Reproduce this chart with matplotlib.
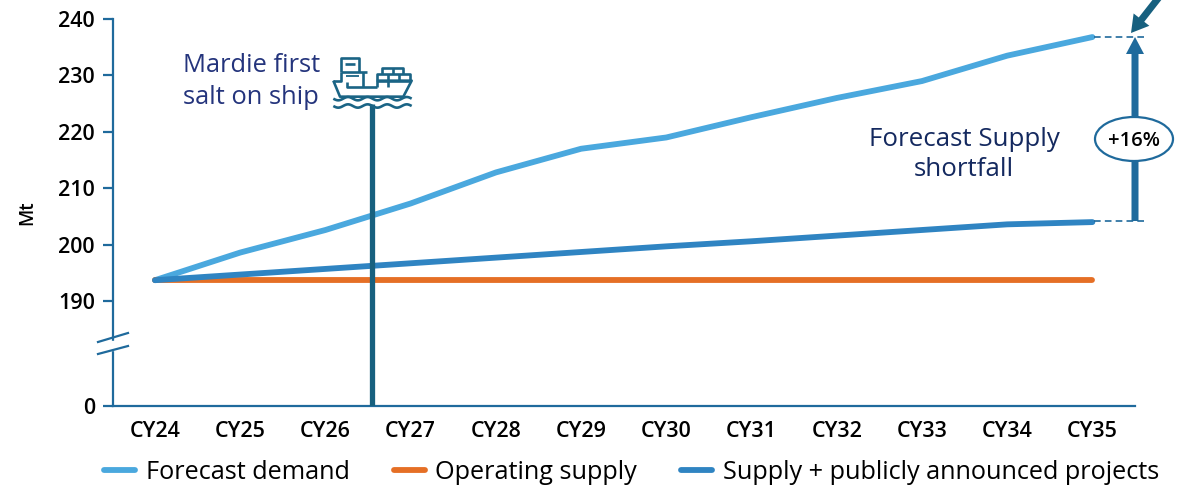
import matplotlib
matplotlib.use("Agg")
import matplotlib.pyplot as plt
import numpy as np
from matplotlib.patches import Ellipse, FancyArrow, Rectangle

plt.rcParams['font.family'] = ['Open Sans', 'DejaVu Sans']

years = ['CY24', 'CY25', 'CY26', 'CY27', 'CY28', 'CY29', 'CY30', 'CY31', 'CY32', 'CY33', 'CY34', 'CY35']
demand = [193.7, 198.6, 202.6, 207.3, 212.8, 217.0, 219.0, 222.6, 226.0, 229.0, 233.5, 236.8]
operating = [193.7] * 12
announced = [193.7, 194.7, 195.7, 196.7, 197.7, 198.7, 199.7, 200.6, 201.6, 202.6, 203.6, 204.0]
yticks = [0, 190, 200, 210, 220, 230, 240]
mardie_x = 2.55
mardie_top = 225

W, H = 1179, 488
AXIS = '#1f6a9c'
NAVY = '#24347c'

# axis break: 0-190 squeezed into the same height as 18.6 Mt
def forward(v):
    v = np.asarray(v, dtype=float)
    return np.where(v < 190, v * 18.6 / 190, v - 190 + 18.6)

def inverse(v):
    v = np.asarray(v, dtype=float)
    return np.where(v < 18.6, v * 190 / 18.6, v + 190 - 18.6)

fig = plt.figure(figsize=(W / 100, H / 100), dpi=100)
ax = fig.add_axes([113 / W, 1 - 406 / H, (1135 - 113) / W, (406 - 19) / H])
ax.set_yscale('function', functions=(forward, inverse))
ax.set_ylim(0, 240)
ax.set_xlim(-0.493, 11.5)

l1, = ax.plot(demand, color='#4aa8de', lw=4.2, solid_capstyle='round', label='Forecast demand', zorder=3)
l2, = ax.plot(operating, color='#e56f25', lw=4.2, solid_capstyle='round', label='Operating supply', zorder=3)
l3, = ax.plot(announced, color='#2f84c2', lw=4.2, solid_capstyle='round',
              label='Supply + publicly announced projects', zorder=4)
ax.plot([mardie_x, mardie_x], [0, mardie_top], color='#17607f', lw=3.8, zorder=5, solid_capstyle='butt')

for s in ['top', 'right']:
    ax.spines[s].set_visible(False)
for s in ['left', 'bottom']:
    ax.spines[s].set_color(AXIS)
    ax.spines[s].set_linewidth(1.6)
ax.set_xticks(range(12))
ax.set_xticklabels(years, fontsize=15.5, fontweight='semibold')
ax.tick_params(axis='x', length=0, pad=11)
ax.set_yticks(yticks)
ax.set_yticklabels([str(v) for v in yticks], fontsize=15.5, fontweight='semibold')
ax.tick_params(axis='y', length=7, width=1.6, color=AXIS, pad=6)
ax.minorticks_off()
ax.set_ylabel('Mt', fontsize=13.5, fontweight='semibold')
ax.yaxis.set_label_coords(-76 / (1135 - 113), 0.5)

ax.legend(handles=[l1, l2, l3], ncol=3, frameon=False, prop={'size': 18.2, 'weight': 'medium'},
          handlelength=1.22, handletextpad=0.42, columnspacing=1.75, loc='center left',
          bbox_to_anchor=(-0.0085, -0.172), borderaxespad=0, borderpad=0)

# overlay in pixel coordinates for the annotations and the ship icon
ov = fig.add_axes([0, 0, 1, 1])
ov.set_xlim(0, W)
ov.set_ylim(H, 0)
ov.axis('off')
ov.patch.set_alpha(0)

# axis break
ov.add_patch(Rectangle((110, 341), 6, 9, color='white', zorder=2))
ov.plot([98, 128], [342, 333], color=AXIS, lw=1.6)
ov.plot([98, 128], [354, 346], color=AXIS, lw=1.6)

ov.text(183, 65, 'Mardie first', color=NAVY, fontsize=18.4, fontweight='medium', va='center')
ov.text(183, 97, 'salt on ship', color=NAVY, fontsize=18.4, fontweight='medium', va='center')
ov.text(964, 139, 'Forecast Supply', color='#14295f', fontsize=18.6, fontweight='medium', va='center', ha='center')
ov.text(964, 170, 'shortfall', color='#14295f', fontsize=18.6, fontweight='medium', va='center', ha='center')

# shortfall arrow
ov.plot([1094, 1144], [36.5, 36.5], color=AXIS, lw=1.2, ls=(0, (4, 2.5)))
ov.plot([1094, 1144], [221, 221], color=AXIS, lw=1.2, ls=(0, (4, 2.5)))
ov.add_patch(FancyArrow(1135, 221, 0, -184, width=7, head_width=18, head_length=17,
                        length_includes_head=True, color=AXIS, lw=0))
ov.add_patch(Ellipse((1134, 139), 78, 44, fc='white', ec=AXIS, lw=1.6, zorder=6))
ov.text(1134, 141, '+16%', fontsize=14.5, fontweight='semibold', ha='center', va='center', zorder=7)
ov.add_patch(FancyArrow(1160, -4, -29, 37, width=7, head_width=20, head_length=17,
                        length_includes_head=True, color='#17607f', lw=0))

# ship icon, traced in pixels
SHIP = '#1a6485'
def ship(xs, ys, lw=1.9):
    ov.plot(np.array(xs) / 3 + 320, np.array(ys) / 3 + 40, color=SHIP, lw=lw, solid_capstyle='butt', zorder=6)

ship([62, 62, 118, 118], [95, 55, 55, 95])
ship([76, 104], [72, 72])
ship([62, 140], [95, 95])
ship([130, 130], [95, 142])
ship([78, 118], [107, 107], lw=1.3)
ship([40, 62, 62], [122, 122, 95])
ship([40, 60, 250, 275, 170], [122, 170, 170, 122, 122])
ship([82, 82, 170], [125, 142, 142])
ship([170, 170, 270, 270], [142, 102, 102, 122])
ship([170, 270], [122, 122])
ship([187, 187, 250, 250], [102, 85, 85, 102])
ship([218, 218], [85, 102])
ship([203, 203], [102, 122])
ship([236, 236], [102, 122])
ship([203, 203], [122, 142])
wave_x = np.linspace(40, 275, 80)
for wy in [176, 198]:
    ship(wave_x, wy + 5 * np.sin((wave_x - 40) / 235 * 2 * np.pi * 4))

fig.savefig('out.png', dpi=100)
